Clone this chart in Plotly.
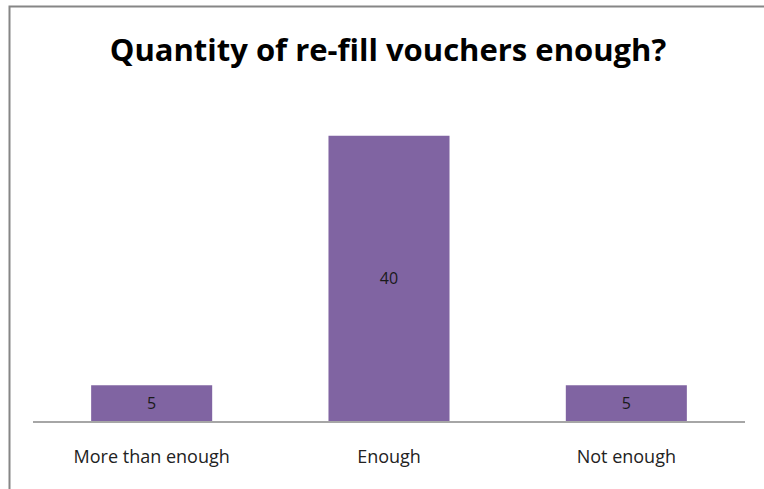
import plotly.graph_objects as go

categories = ["More than enough", "Enough", "Not enough"]
values = [5, 40, 5]

W, H = 764, 489
ml, mr, mt, mb = 33, 19, 100, 68
pw, ph = W - ml - mr, H - mt - mb

fig = go.Figure(go.Bar(
    x=categories,
    y=values,
    width=0.51,
    marker=dict(color="#8064A2", line=dict(width=0)),
    text=[str(v) for v in values],
    textposition="inside",
    insidetextanchor="middle",
    textfont=dict(family="Open Sans, Liberation Sans, sans-serif", size=16, color="#1a1a1a"),
    hoverinfo="skip",
))

# outer chart frame (paper coordinates relative to plot area)
fig.add_shape(
    type="rect", xref="paper", yref="paper",
    x0=(9.5 - ml) / pw, x1=(W + 10 - ml) / pw,
    y0=(H - mt - (H + 10)) / ph, y1=(H - mb - 6.5) / ph,
    line=dict(color="#868686", width=2), fillcolor="rgba(0,0,0,0)", layer="below",
)

fig.update_layout(
    width=W, height=H,
    margin=dict(l=ml, r=mr, t=mt, b=mb),
    paper_bgcolor="white", plot_bgcolor="white",
    showlegend=False,
    title=dict(
        text="<b>Quantity of re-fill vouchers enough?</b>",
        x=(388 / W), xanchor="center", y=1 - 50 / H, yanchor="middle",
        font=dict(family="Open Sans, Liberation Sans, sans-serif", size=31, color="#000000"),
    ),
    xaxis=dict(
        showline=True, linecolor="#A6A6A6", linewidth=1.5,
        ticks="", showgrid=False,
        tickfont=dict(family="Open Sans, Liberation Sans, sans-serif", size=18, color="#222222"),
        ticklabelstandoff=19,
    ),
    yaxis=dict(range=[0, 45], visible=False, showgrid=False, zeroline=False),
)

fig.write_html("out.html")
